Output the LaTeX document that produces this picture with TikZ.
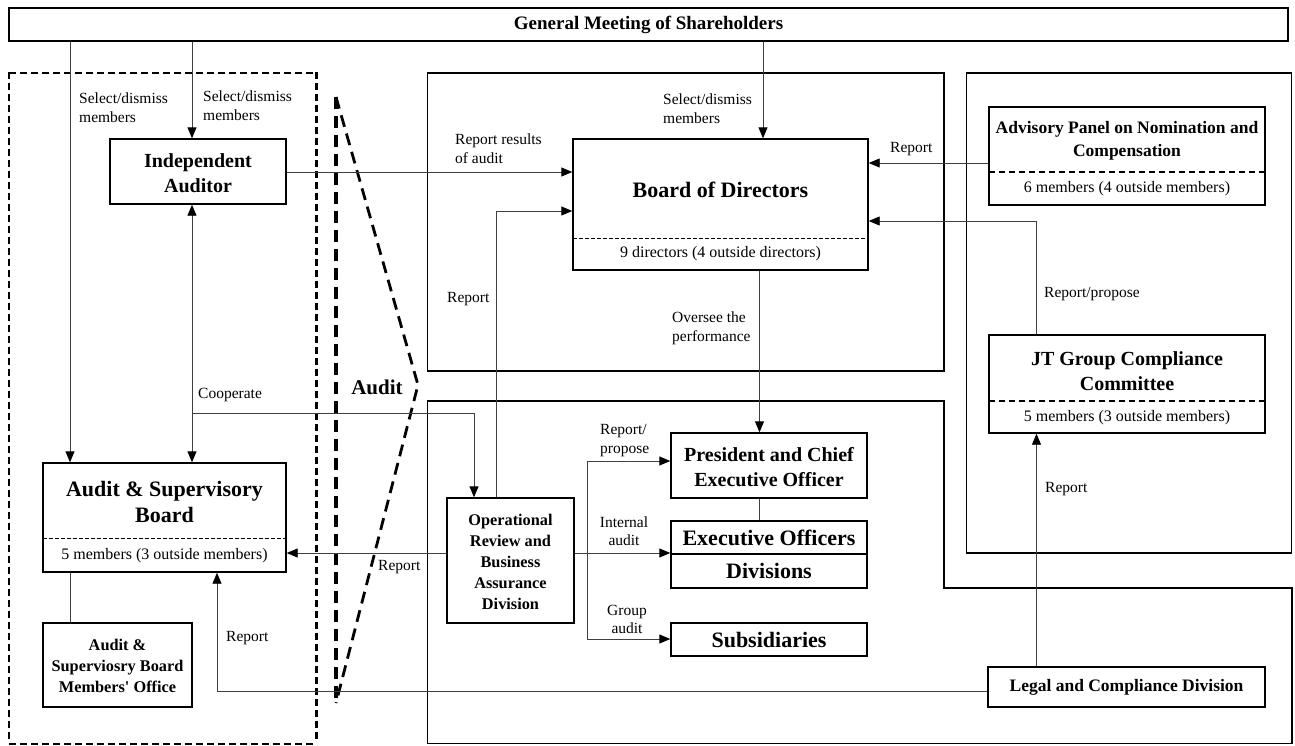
\documentclass[tikz,border=0pt]{standalone}
\usepackage{fontspec}
\setmainfont{Liberation Serif}
\usetikzlibrary{arrows.meta}
\begin{document}
\begin{tikzpicture}[x=1pt,y=-1pt,
  box/.style={draw=black,line width=1.4pt,inner sep=0pt,align=center,fill=white},
  cont/.style={draw=black,line width=1.6pt},
  conn/.style={draw=black!75,line width=0.9pt},
  tip/.tip={Triangle[length=11pt,width=9pt,color=black]},
  arr/.style={conn,-tip},
  darr/.style={conn,tip-tip},
  lab/.style={inner sep=0pt,align=left,font=\fontsize{15.5}{19}\selectfont},
  clab/.style={inner sep=0pt,align=center,font=\fontsize{15.5}{18}\selectfont},
  memb/.style={inner sep=0pt,align=center,font=\fontsize{16}{19}\selectfont},
  ttl/.style={inner sep=0pt,align=center,font=\fontsize{20}{25}\selectfont\bfseries},
  bigttl/.style={inner sep=0pt,align=center,font=\fontsize{22}{26}\selectfont\bfseries},
  smttl/.style={inner sep=0pt,align=center,font=\fontsize{16.3}{21}\selectfont\bfseries},
  sep/.style={draw=black,line width=1pt,dash pattern=on 4pt off 2pt},
  septhick/.style={draw=black,line width=1.5pt,dash pattern=on 6pt off 4pt},
  auditline/.style={draw=black,line width=2.8pt,dash pattern=on 12pt off 7pt},
  leftdash/.style={draw=black,line width=2pt,dash pattern=on 7pt off 4pt}
]
\useasboundingbox (0,0) rectangle (1295,745);

% containers
% left dashed frame: horizontal edges as dashed strokes, vertical edges as filled dashes
\draw[leftdash] (9,73) -- (316.5,73);
\draw[leftdash] (9,743.5) -- (316.5,743.5);
\foreach \yy in {72,83,...,736} {
  \fill[black] (7.8,\yy) rectangle (10.2,\yy+7);
  \fill[black] (315.3,\yy) rectangle (317.7,\yy+7);
}
\draw[cont] (427.5,73) rectangle (944,371);
\draw[cont] (966.5,73) rectangle (1291.5,553);
\draw[draw=black,line width=1.3pt] (427.5,401) -- (944,401) -- (944,588) -- (1292,588) -- (1292,743.5) -- (427.5,743.5) -- cycle;

% audit triangle
\draw[auditline] (336,97) -- (418,385) -- (336,703);
\foreach \yy in {97,116,...,700} {
  \fill[black] (334.3,\yy) rectangle (337.7,\yy+12);
}
\node[inner sep=0pt,font=\fontsize{21}{25}\selectfont\bfseries] (auditlab) at (377,387) {Audit};

% boxes
\node[box,minimum width=1279pt,minimum height=33pt] (gms) at (648.5,24.5)
  {\fontsize{19}{22}\selectfont\bfseries General Meeting of Shareholders};
\node[box,minimum width=176pt,minimum height=65pt] (ia) at (198,171.5) {};
\node[ttl] (iat) at (198,173.5) {Independent\\Auditor};

\node[box,minimum width=243pt,minimum height=109pt] (asb) at (164.5,517.5) {};
\node[bigttl] (asbt) at (164.5,502) {Audit \& Supervisory\\Board};
\node[memb] (asbm) at (164.5,556) {5 members (3 outside members)};

\node[box,minimum width=149pt,minimum height=84pt] (off) at (117.5,665) {};
\node[smttl] (offt) at (117.5,666) {Audit \&\\Superviosry Board\\Members\textquotesingle\ Office};

\node[box,minimum width=295pt,minimum height=131pt] (bod) at (720.5,204.5) {};
\node[inner sep=0pt,font=\fontsize{22}{26}\selectfont\bfseries] (bodt) at (720.5,190) {Board of Directors};
\node[memb] (bodm) at (720.5,254) {9 directors (4 outside directors)};

\node[box,minimum width=276pt,minimum height=98pt] (adv) at (1127,156) {};
\node[inner sep=0pt,align=center,font=\fontsize{17.5}{23}\selectfont\bfseries] (advt) at (1127,141) {Advisory Panel on Nomination and\\Compensation};
\node[memb] (advm) at (1127,189) {6 members (4 outside members)};

\node[box,minimum width=276pt,minimum height=98pt] (jt) at (1127,384) {};
\node[ttl] (jtt) at (1127,371) {JT Group Compliance\\Committee};
\node[memb] (jtm) at (1127,418) {5 members (3 outside members)};

\node[box,minimum width=277pt,minimum height=40pt,font=\fontsize{17.5}{21}\selectfont\bfseries] (legal) at (1126.5,687) {Legal and Compliance Division};

\node[box,minimum width=127pt,minimum height=125pt] (orbad) at (510.5,560.5) {};
\node[smttl] (orbadt) at (510.5,562) {Operational\\Review and\\Business\\Assurance\\Division};

\node[box,minimum width=196pt,minimum height=65pt] (pres) at (769,465.5) {};
\node[ttl] (prest) at (769,467.5) {President and Chief\\Executive Officer};

\node[box,minimum width=196pt,minimum height=33pt,font=\fontsize{22}{26}\selectfont\bfseries] (execo) at (769,537.5) {Executive Officers};
\node[box,minimum width=196pt,minimum height=34pt,font=\fontsize{22}{26}\selectfont\bfseries] (div) at (769,571) {Divisions};
\node[box,minimum width=196pt,minimum height=33pt,font=\fontsize{22}{26}\selectfont\bfseries] (subs) at (769,639.5) {Subsidiaries};

% separators
\draw[sep] (43,538) -- (286,538);
\draw[sep] (573,238) -- (868,238);
\draw[septhick] (989,172) -- (1265,172);
\draw[septhick] (989,401) -- (1265,401);

% helper coordinates
\coordinate (xA) at (70,0);
\coordinate (xB) at (192,0);
\coordinate (xC) at (474,0);
\coordinate (xE) at (496,0);
\coordinate (xF) at (763,0);
\coordinate (xG) at (759.5,0);
\coordinate (xH) at (1036.5,0);
\coordinate (xI) at (217,0);
\coordinate (xJ) at (587,0);
\coordinate (coop) at (192,413);
\coordinate (y172) at (0,172);
\coordinate (y211) at (0,211);
\coordinate (y163) at (0,163);
\coordinate (y221) at (0,221);
\coordinate (y553) at (0,553);
\coordinate (y461) at (0,461);
\coordinate (y639) at (0,639);
\coordinate (y691) at (0,691);

% connectors
\draw[arr] (gms.south -| xA) -- (asb.north -| xA);
\draw[arr] (gms.south -| xB) -- (ia.north -| xB);
\draw[darr] (ia.south -| xB) -- (asb.north -| xB);
\draw[arr] (coop) -| (orbad.north -| xC);
\draw[arr] (ia.east |- y172) -- (bod.west |- y172);
\draw[arr] (orbad.north -| xE) |- (bod.west |- y211);
\draw[arr] (gms.south -| xF) -- (bod.north -| xF);
\draw[arr] (bod.south -| xG) -- (pres.north -| xG);
\draw[arr] (adv.west |- y163) -- (bod.east |- y163);
\draw[arr] (jt.north -| xH) |- (bod.east |- y221);
\draw[arr] (legal.north -| xH) -- (jt.south -| xH);
\draw[arr] (legal.west |- y691) -| (asb.south -| xI);
\draw[arr] (orbad.west |- y553) -- (asb.east |- y553);
\draw[arr] (orbad.east |- y553) -- (execo.west |- y553);
\draw[darr] (pres.west |- y461) -| (xJ |- y639) -- (subs.west |- y639);
\draw[conn] (pres.south -| xG) -- (execo.north -| xG);
\draw[conn] (asb.south -| xA) -- (off.north -| xA);

% labels
\node[lab,anchor=west] (l1) at (79,108) {Select/dismiss\\members};
\node[lab,anchor=west] (l2) at (203,106) {Select/dismiss\\members};
\node[lab,anchor=west] (l3) at (663,109) {Select/dismiss\\members};
\node[lab,anchor=west] (l4) at (455,149) {Report results\\of audit};
\node[lab,anchor=west] (l5) at (447,299) {Report};
\node[lab,anchor=west] (l6) at (890,149) {Report};
\node[lab,anchor=west] (l7) at (1044,294) {Report/propose};
\node[lab,anchor=west] (l8) at (672,328) {Oversee the\\performance};
\node[lab,anchor=west] (l9) at (198,395) {Cooperate};
\node[lab,anchor=west] (l10) at (378,567) {Report};
\node[lab,anchor=west] (l11) at (226,638) {Report};
\node[lab,anchor=west] (l12) at (600,441) {Report/\\propose};
\node[clab] (l13) at (624,531) {Internal\\audit};
\node[clab] (l14) at (627,619) {Group\\audit};
\node[lab,anchor=west] (l15) at (1045,489) {Report};
\end{tikzpicture}
\end{document}
